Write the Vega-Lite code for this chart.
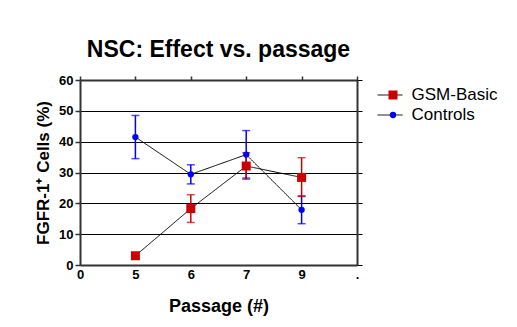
{
  "$schema": "https://vega.github.io/schema/vega-lite/v6.json",
  "width": 277,
  "height": 185,
  "autosize": {"type": "none"},
  "padding": {"left": 80, "top": 80, "right": 160, "bottom": 62},
  "background": "white",
  "title": {"text": "NSC: Effect vs. passage", "fontSize": 23, "fontWeight": "bold", "font": "Liberation Sans", "color": "black", "anchor": "middle", "offset": 12},
  "config": {
    "font": "Liberation Sans",
    "view": {"stroke": null},
    "legend": {"title": null, "padding": 0, "labelFont": "Liberation Sans", "labelFontSize": 17, "labelColor": "black", "rowPadding": 0, "clipHeight": 20}
  },
  "data": {"values": [
    {"series": "Controls", "passage": "5", "mean": 41.5, "lo": 34.5, "hi": 48.5},
    {"series": "Controls", "passage": "6", "mean": 29.4, "lo": 26.3, "hi": 32.5},
    {"series": "Controls", "passage": "7", "mean": 35.8, "lo": 28.2, "hi": 43.6},
    {"series": "Controls", "passage": "9", "mean": 17.9, "lo": 13.4, "hi": 22.4},
    {"series": "GSM-Basic", "passage": "5", "mean": 3.0, "lo": 3.0, "hi": 3.0},
    {"series": "GSM-Basic", "passage": "6", "mean": 18.3, "lo": 13.8, "hi": 22.8},
    {"series": "GSM-Basic", "passage": "7", "mean": 32.1, "lo": 27.8, "hi": 36.4},
    {"series": "GSM-Basic", "passage": "9", "mean": 28.4, "lo": 22.2, "hi": 34.8}
  ]},
  "resolve": {"axis": {"x": "independent", "y": "independent"}},
  "layer": [
    {
      "transform": [{"filter": "datum.series == 'Controls'"}],
      "mark": {"type": "rule", "color": "#0000ff", "strokeWidth": 1.5},
      "encoding": {
        "x": {"field": "passage", "type": "ordinal", "scale": {"type": "point", "domain": ["0", "5", "6", "7", "9", "."], "padding": 0},
          "axis": {"orient": "bottom", "title": "Passage (#)", "titleFontSize": 18, "titleFontWeight": "bold", "titleColor": "black", "titlePadding": 16,
            "labelAngle": 0, "labelFontSize": 13, "labelFontWeight": "bold", "labelColor": "black", "labelPadding": 3,
            "domainWidth": 2, "domainColor": "#333", "ticks": false, "grid": false}},
        "y": {"field": "lo", "type": "quantitative", "scale": {"domain": [0, 60], "nice": false},
          "axis": {"orient": "left", "values": [0, 10, 20, 30, 40, 50, 60], "title": "FGFR-1⁺ Cells (%)", "titleFontSize": 17, "titleFontWeight": "bold", "titleColor": "black", "titlePadding": 6,
            "labelFontSize": 13, "labelFontWeight": "bold", "labelColor": "black", "labelPadding": 2,
            "domainWidth": 2, "domainColor": "#333", "tickColor": "#333", "tickSize": 5, "tickWidth": 1.5,
            "grid": true, "gridColor": "black", "gridWidth": 1, "gridOpacity": 1}},
        "y2": {"field": "hi"}
      }
    },
    {
      "transform": [{"filter": "datum.series == 'GSM-Basic'"}],
      "mark": {"type": "rule", "color": "#cc0000", "strokeWidth": 1.5},
      "encoding": {
        "x": {"field": "passage", "type": "ordinal", "axis": null},
        "y": {"field": "lo", "type": "quantitative", "axis": null},
        "y2": {"field": "hi"}
      }
    },
    {
      "transform": [{"filter": "datum.series == 'Controls'"}, {"fold": ["lo", "hi"], "as": ["bound", "val"]}],
      "mark": {"type": "tick", "color": "#0000ff", "orient": "horizontal", "size": 8, "thickness": 1.5},
      "encoding": {
        "x": {"field": "passage", "type": "ordinal", "axis": null},
        "y": {"field": "val", "type": "quantitative", "axis": null}
      }
    },
    {
      "transform": [{"filter": "datum.series == 'GSM-Basic'"}, {"fold": ["lo", "hi"], "as": ["bound", "val"]}],
      "mark": {"type": "tick", "color": "#cc0000", "orient": "horizontal", "size": 8, "thickness": 1.5},
      "encoding": {
        "x": {"field": "passage", "type": "ordinal", "axis": null},
        "y": {"field": "val", "type": "quantitative", "axis": null}
      }
    },
    {
      "mark": {"type": "line", "color": "black", "strokeWidth": 1},
      "encoding": {
        "x": {"field": "passage", "type": "ordinal",
          "axis": {"orient": "top", "labels": false, "title": null, "domainWidth": 2, "domainColor": "#333", "tickColor": "#333", "tickSize": 4, "tickWidth": 1.5, "grid": false}},
        "y": {"field": "mean", "type": "quantitative",
          "axis": {"orient": "right", "labels": false, "title": null, "values": [0, 10, 20, 30, 40, 50, 60], "domainWidth": 2, "domainColor": "#333", "tickColor": "black", "tickSize": 5, "tickWidth": 1, "grid": false}},
        "strokeDash": {"field": "series", "type": "nominal", "scale": {"domain": ["Controls", "GSM-Basic"], "range": [[1, 0], [1, 0]]},
          "legend": {"orient": "none", "legendX": 297, "legendY": 5, "symbolType": "stroke", "symbolSize": 625, "symbolStrokeWidth": 1, "symbolStrokeColor": "black", "labelExpr": "''"}}
      }
    },
    {
      "mark": {"type": "point", "filled": true, "opacity": 1},
      "encoding": {
        "x": {"field": "passage", "type": "ordinal", "axis": null},
        "y": {"field": "mean", "type": "quantitative", "axis": null},
        "color": {"field": "series", "type": "nominal", "scale": {"domain": ["GSM-Basic", "Controls"], "range": ["#cc0000", "#0000ff"]},
          "legend": {"orient": "none", "legendX": 304.5, "legendY": 5, "labelOffset": 10}},
        "shape": {"field": "series", "type": "nominal", "scale": {"domain": ["GSM-Basic", "Controls"], "range": ["square", "circle"]}},
        "size": {"field": "series", "type": "nominal", "scale": {"domain": ["GSM-Basic", "Controls"], "range": [81, 40]}},
        "order": {"field": "series", "type": "nominal", "sort": "ascending"}
      }
    }
  ]
}
